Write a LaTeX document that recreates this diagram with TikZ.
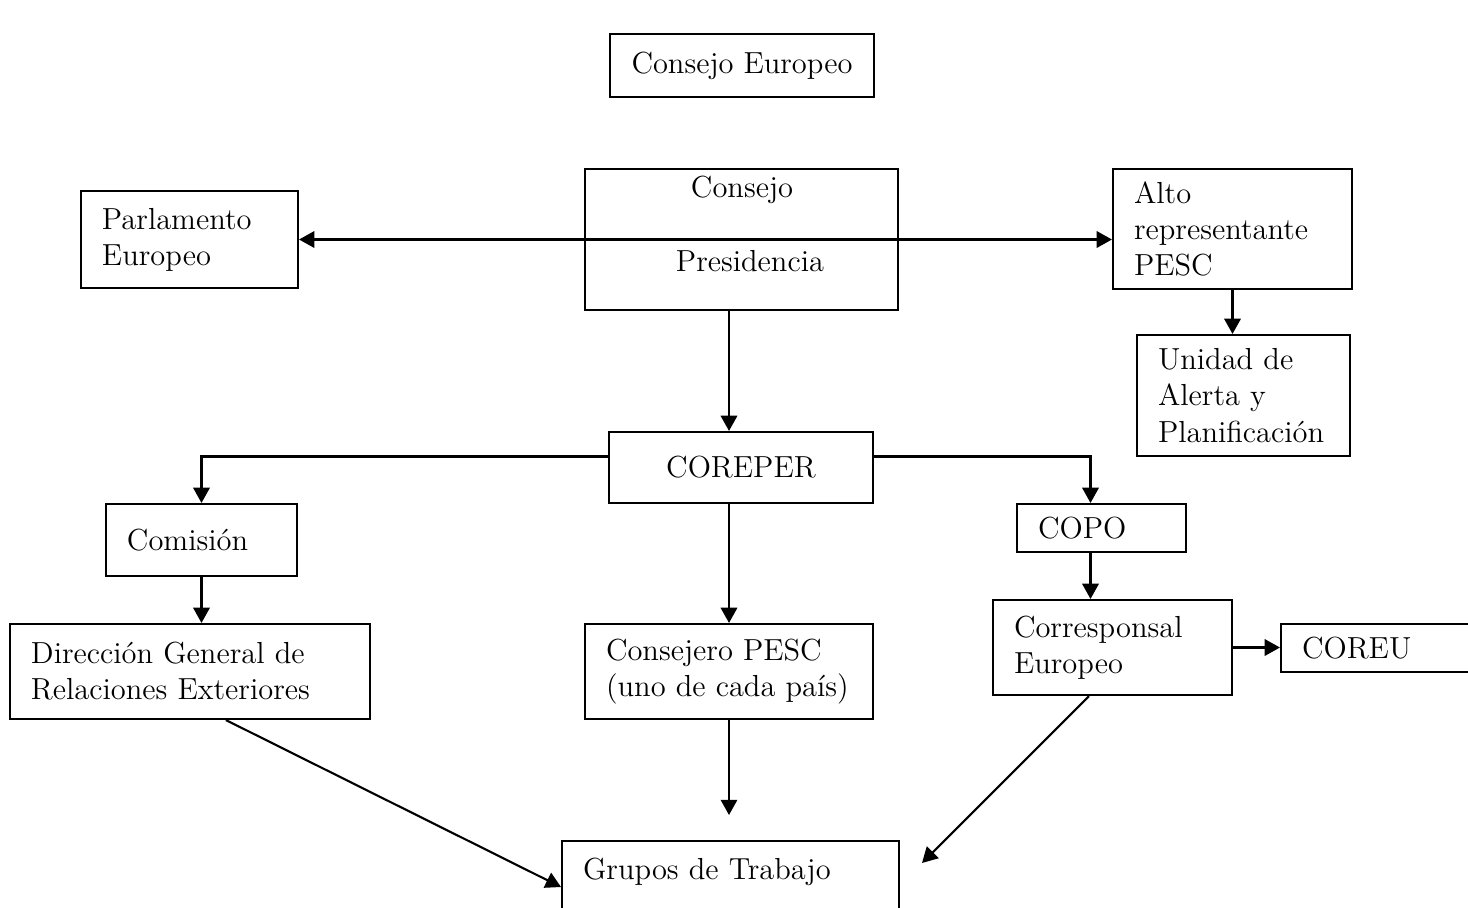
\documentclass[tikz,border=0pt]{standalone}
\usepackage{tikz}
\usetikzlibrary{calc}
\usetikzlibrary{arrows.meta}

\tikzset{
  caja/.style={draw, line width=0.9pt, align=left, inner xsep=0.315cm, inner ysep=0pt},
  cajac/.style={draw, line width=0.9pt, align=center, inner sep=0pt},
  flecha/.style={->, line width=0.9pt},
}

\begin{document}
\begin{tikzpicture}[x=0.015cm, y=-0.015cm, >={Triangle[length=6.5pt,width=7pt]},
  every node/.style={font=\fontsize{13}{15.4}\selectfont}]

  \useasboundingbox (0,0) rectangle (1468,907);
  \clip (0,0) rectangle (1468,907);

  % cajas
  \node[cajac, minimum width=3.96cm, minimum height=0.945cm] (ce) at (742,65.5) {Consejo Europeo};
  \node[cajac, minimum width=4.695cm, minimum height=2.115cm] (consejo) at (741.5,239.5) {};
  \node (cons) at (742,190) {Consejo};
  \node (pres) at (750,261) {Presidencia};
  \node[caja, text width=2.625cm, minimum height=1.455cm] (parl) at (189.5,239.5) {Parlamento\\Europeo};
  \node[caja, text width=2.955cm, minimum height=1.8cm] (alto) at (1232.5,229) {Alto\\representante\\PESC};
  \node[caja, text width=2.565cm, minimum height=1.815cm] (unidad) at (1243.5,395.5) {Unidad de\\Alerta y\\Planificación};
  \node[cajac, minimum width=3.96cm, minimum height=1.065cm] (corep) at (741,467.5) {COREPER};
  \node[caja, text width=2.235cm, minimum height=1.08cm] (comision) at (201.5,540) {Comisión};
  \node[caja, text width=1.905cm, minimum height=0.72cm] (copo) at (1101.5,528) {COPO};
  \node[caja, text width=4.77cm, minimum height=1.425cm] (dgre) at (190,671.5) {Dirección General de\\Relaciones Exteriores};
  \node[caja, text width=3.69cm, minimum height=1.425cm] (cpesc) at (729,671.5) {Consejero PESC\\(uno de cada país)};
  \node[caja, text width=2.955cm, minimum height=1.425cm] (corr) at (1112.5,647.5) {Corresponsal\\Europeo};
  \node[caja, text width=2.37cm, minimum height=0.72cm] (coreu) at (1381,648) {COREU};
  \node[caja, anchor=north west, text width=4.425cm, text height=16.5pt, text depth=30pt] (grupos) at (561,840) {Grupos de Trabajo};

  % puntos sueltos
  \coordinate (copoar) at ($(copo.north)+(-11,0)$);
  \coordinate (copoab) at ($(copo.south)+(-11,0)$);
  \coordinate (gt1) at (729,815);
  \coordinate (gt2) at (922,863);

  % conexiones
  \draw[flecha, <->] (parl.east) -- (parl.east -| alto.west);
  \draw[flecha] (consejo.south -| cpesc.north) -- (corep.north -| cpesc.north);
  \draw[flecha] (alto.south) -- (alto.south |- unidad.north);
  \draw[flecha] ($(corep.west)+(0,-11)$) -| (comision.north);
  \draw[flecha] ($(corep.east)+(0,-11)$) -| (copoar);
  \draw[flecha] (comision.south) -- (comision.south |- dgre.north);
  \draw[flecha] (corep.south -| cpesc.north) -- (cpesc.north);
  \draw[flecha] (copoab) -- (copoab |- corr.north);
  \draw[flecha] (corr.east) -- (corr.east -| coreu.west);
  \draw[flecha] (cpesc.south) -- (cpesc.south |- gt1);
  \draw[flecha] ($(dgre.south west)+(217,0)$) -- ($(grupos.north west)+(0,47)$);
  \draw[flecha] ($(corr.south west)+(97,0)$) -- (gt2);
\end{tikzpicture}
\end{document}
